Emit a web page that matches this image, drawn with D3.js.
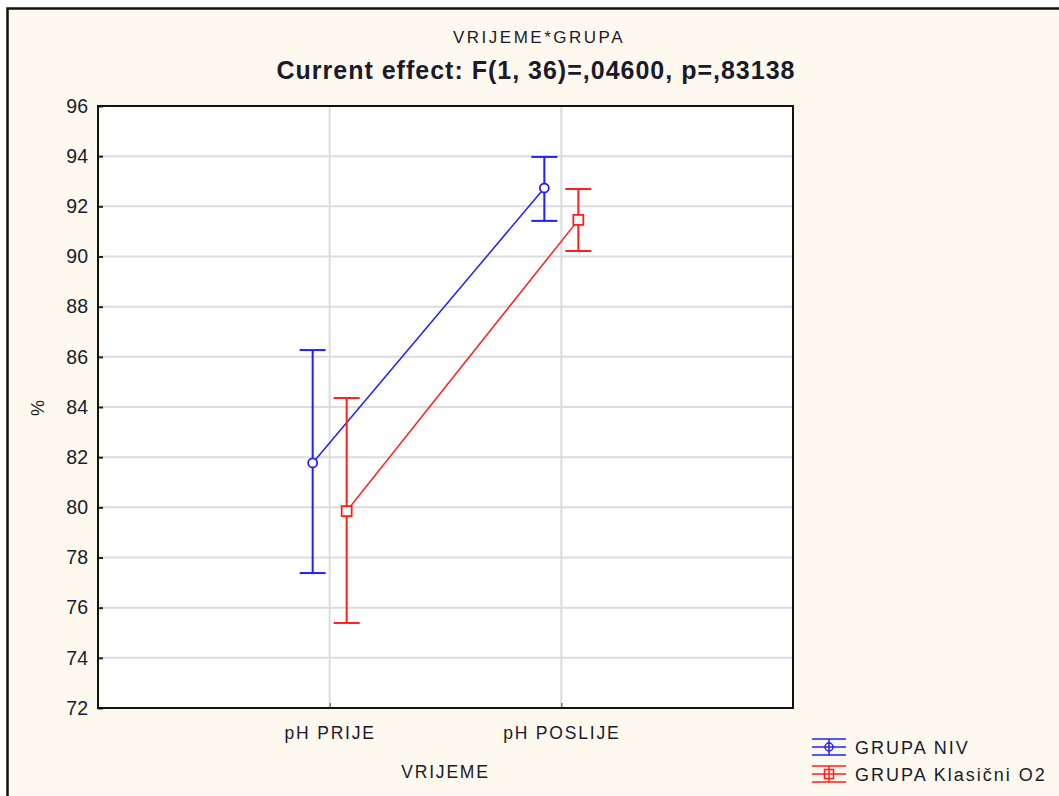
<!DOCTYPE html>
<html><head><meta charset="utf-8">
<script src="https://cdn.jsdelivr.net/npm/d3@7"></script>
<style>body{margin:0;background:#fff;}svg{display:block;}</style>
</head><body>
<svg id="c" width="1059" height="796"></svg>
<script>
const categories = ["pH PRIJE", "pH POSLIJE"];
const seriesNames = ["GRUPA NIV", "GRUPA Klasični O2"];
const seriesColors = ["#1f1fff", "#ff1f1f"];
const meanNIV = [81.77, 92.73];
const lowNIV = [77.38, 91.42];
const highNIV = [86.27, 93.97];
const meanKlas = [79.85, 91.46];
const lowKlas = [75.39, 90.22];
const highKlas = [84.36, 92.69];
const yTicks = [72, 74, 76, 78, 80, 82, 84, 86, 88, 90, 92, 94, 96];

const series = [
  {name: seriesNames[0], color: seriesColors[0], mean: meanNIV, low: lowNIV, high: highNIV, shape: "circle", off: -17},
  {name: seriesNames[1], color: seriesColors[1], mean: meanKlas, low: lowKlas, high: highKlas, shape: "square", off: 17}
];

const svg = d3.select("#c");
const W = 1059, H = 796;
const font = "Arial, 'Liberation Sans', sans-serif";
const textCol = "#1a1a2a";

// background and frame
svg.append("rect").attr("x", 0).attr("y", 0).attr("width", W).attr("height", H).attr("fill", "#ffffff");
svg.append("rect").attr("x", 7).attr("y", 8).attr("width", W).attr("height", H).attr("fill", "#fdf9ef");
svg.append("path").attr("d", `M7.5,${H} V8.5 H${W}`).attr("fill", "none").attr("stroke", "#111").attr("stroke-width", 2.5);

const L = 98, R = 793, T = 106, B = 708;
const x = d3.scalePoint().domain(categories).range([L, R]).padding(1);
const y = d3.scaleLinear().domain([72, 96]).range([B, T]);

svg.append("rect").attr("x", L).attr("y", T).attr("width", R - L).attr("height", B - T).attr("fill", "#ffffff");

// gridlines
const g = svg.append("g");
g.selectAll("line.hg").data(yTicks.slice(1, -1)).join("line")
  .attr("x1", L).attr("x2", R).attr("y1", d => y(d)).attr("y2", d => y(d))
  .attr("stroke", "#dcdcdc").attr("stroke-width", 2);
g.selectAll("line.vg").data(categories).join("line")
  .attr("x1", d => x(d)).attr("x2", d => x(d)).attr("y1", T).attr("y2", B)
  .attr("stroke", "#dcdcdc").attr("stroke-width", 2);

// axes
const yAxis = d3.axisLeft(y).tickValues(yTicks).tickSize(-5).tickPadding(10).tickFormat(d3.format("d"));
const ya = svg.append("g").attr("transform", `translate(${L},0)`).call(yAxis);
ya.select(".domain").remove();
ya.selectAll(".tick line").attr("stroke", "#222").attr("stroke-width", 2);
ya.selectAll(".tick text").attr("font-family", font).attr("font-size", 19.5).attr("fill", textCol);

const xAxis = d3.axisBottom(x).tickSize(-5).tickPadding(19);
const xa = svg.append("g").attr("transform", `translate(0,${B})`).call(xAxis);
xa.select(".domain").remove();
xa.selectAll(".tick line").attr("stroke", "#444").attr("stroke-width", 1);
xa.selectAll(".tick text").attr("font-family", font).attr("font-size", 17.5).attr("fill", textCol).attr("letter-spacing", 1.8);

svg.append("rect").attr("x", L).attr("y", T).attr("width", R - L).attr("height", B - T)
  .attr("fill", "none").attr("stroke", "#111").attr("stroke-width", 2);

// series
series.forEach(s => {
  const gs = svg.append("g");
  const px = (c) => x(c) + s.off;
  const line = d3.line().x((d, i) => px(categories[i])).y(d => y(d));
  gs.append("path").attr("d", line(s.mean)).attr("fill", "none").attr("stroke", s.color).attr("stroke-width", 1.5);
  categories.forEach((c, i) => {
    const cx = px(c);
    gs.append("line").attr("x1", cx).attr("x2", cx).attr("y1", y(s.low[i])).attr("y2", y(s.high[i]))
      .attr("stroke", s.color).attr("stroke-width", 2);
    [s.low[i], s.high[i]].forEach(v => {
      gs.append("line").attr("x1", cx - 13).attr("x2", cx + 13).attr("y1", y(v)).attr("y2", y(v))
        .attr("stroke", s.color).attr("stroke-width", 2);
    });
    if (s.shape === "circle") {
      gs.append("circle").attr("cx", cx).attr("cy", y(s.mean[i])).attr("r", 4.5)
        .attr("fill", "#fff").attr("stroke", s.color).attr("stroke-width", 1.8);
    } else {
      gs.append("rect").attr("x", cx - 5).attr("y", y(s.mean[i]) - 5).attr("width", 10).attr("height", 10)
        .attr("fill", "#fff").attr("stroke", s.color).attr("stroke-width", 1.8);
    }
  });
});

// titles
svg.append("text").attr("x", 539).attr("y", 43).attr("text-anchor", "middle")
  .attr("font-family", font).attr("font-size", 17).attr("fill", textCol).attr("letter-spacing", 2.5)
  .text("VRIJEME*GRUPA");
svg.append("text").attr("x", 536).attr("y", 79).attr("text-anchor", "middle")
  .attr("font-family", font).attr("font-size", 25).attr("font-weight", "bold").attr("fill", textCol)
  .attr("letter-spacing", 1)
  .text("Current effect: F(1, 36)=,04600, p=,83138");

// axis titles
svg.append("text").attr("x", (L + R) / 2).attr("y", 778).attr("text-anchor", "middle")
  .attr("font-family", font).attr("font-size", 17.5).attr("fill", textCol).attr("letter-spacing", 1.8)
  .text("VRIJEME");
svg.append("text").attr("transform", `translate(44,408) rotate(-90)`).attr("text-anchor", "middle")
  .attr("font-family", font).attr("font-size", 18).attr("fill", textCol)
  .text("%");

// legend
series.forEach((s, i) => {
  const ly = 747 + i * 27;
  const lg = svg.append("g");
  const lx = 829;
  lg.append("line").attr("x1", 812).attr("x2", 846).attr("y1", ly).attr("y2", ly).attr("stroke", s.color).attr("stroke-width", 1.5);
  lg.append("line").attr("x1", 812).attr("x2", 846).attr("y1", ly - 8).attr("y2", ly - 8).attr("stroke", s.color).attr("stroke-width", 1.5);
  lg.append("line").attr("x1", 812).attr("x2", 846).attr("y1", ly + 8).attr("y2", ly + 8).attr("stroke", s.color).attr("stroke-width", 1.5);
  lg.append("line").attr("x1", lx).attr("x2", lx).attr("y1", ly - 8).attr("y2", ly + 8).attr("stroke", s.color).attr("stroke-width", 1.5);
  if (s.shape === "circle") {
    lg.append("circle").attr("cx", lx).attr("cy", ly).attr("r", 4).attr("fill", "none").attr("stroke", s.color).attr("stroke-width", 1.5);
  } else {
    lg.append("rect").attr("x", lx - 4.5).attr("y", ly - 4.5).attr("width", 9).attr("height", 9).attr("fill", "none").attr("stroke", s.color).attr("stroke-width", 1.5);
  }
  lg.append("text").attr("x", 855).attr("y", ly + 7).attr("font-family", font).attr("font-size", 18)
    .attr("fill", textCol).attr("letter-spacing", 2).text(s.name);
});
</script>
</body></html>
